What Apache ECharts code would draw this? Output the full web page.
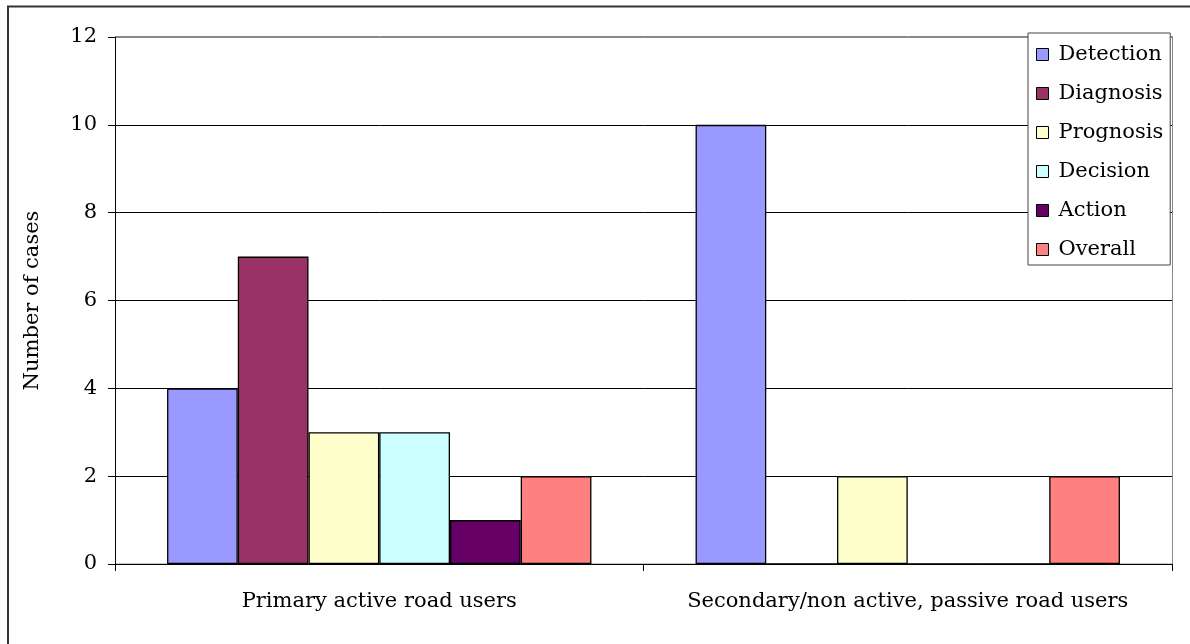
<!DOCTYPE html>
<html>
<head>
<meta charset="utf-8">
<script src="https://cdn.jsdelivr.net/npm/echarts@6/dist/echarts.min.js"></script>
<style>
html,body{margin:0;padding:0;background:#fff;}
#chart{width:1190px;height:644px;}
</style>
</head>
<body>
<div id="chart"></div>
<script>
var categories = ['Primary active road users', 'Secondary/non active, passive road users'];
var seriesNames = ['Detection', 'Diagnosis', 'Prognosis', 'Decision', 'Action', 'Overall'];
var detection = [4, 10];
var diagnosis = [7, 0];
var prognosis = [3, 2];
var decision = [3, 0];
var action = [1, 0];
var overall = [2, 2];
var yTicks = [0, 2, 4, 6, 8, 10, 12];
var colors = ['#9999FF', '#993366', '#FFFFCC', '#CCFFFF', '#660066', '#FF8080'];

var values = [detection, diagnosis, prognosis, decision, action, overall];
var font = '"DejaVu Serif", "Liberation Serif", serif';

var chart = echarts.init(document.getElementById('chart'));
chart.setOption({
  animation: false,
  backgroundColor: '#fff',
  textStyle: { fontFamily: font },
  graphic: [{
    type: 'rect', z: 100, silent: true,
    shape: { x: 8, y: 6.5, width: 1300, height: 800 },
    style: { fill: 'none', stroke: '#333', lineWidth: 2 }
  }, {
    type: 'rect', z: 0, silent: true,
    shape: { x: 115.5, y: 36.5, width: 1057, height: 527.5 },
    style: { fill: 'none', stroke: '#888', lineWidth: 1 }
  }],
  grid: { left: 115, top: 37, right: 18, bottom: 80, containLabel: false },
  legend: {
    orient: 'vertical',
    left: 1028, top: 33,
    padding: [11, 7, 5, 8],
    backgroundColor: '#fff',
    borderColor: '#444',
    borderWidth: 1,
    itemWidth: 12, itemHeight: 12,
    itemGap: 18,
    icon: 'rect',
    itemStyle: { borderColor: '#000', borderWidth: 1 },
    textStyle: { fontFamily: font, fontSize: 21, color: '#000', lineHeight: 21, padding: [0, 0, 0, 5] },
    data: seriesNames
  },
  xAxis: {
    type: 'category',
    data: categories,
    axisLine: { lineStyle: { color: '#000', width: 1 } },
    axisTick: { show: true, length: 7, inside: false, interval: 0, lineStyle: { color: '#000' } },
    axisLabel: { fontFamily: font, fontSize: 21, color: '#000', margin: 27, interval: 0, hideOverlap: false },
    splitLine: { show: false }
  },
  yAxis: {
    type: 'value',
    min: yTicks[0], max: yTicks[yTicks.length - 1], interval: 2,
    name: 'Number of cases',
    nameLocation: 'middle',
    nameGap: 72,
    nameRotate: 90,
    nameTextStyle: { fontFamily: font, fontSize: 21, color: '#000' },
    axisLine: { show: true, lineStyle: { color: '#000', width: 1 } },
    axisTick: { show: true, length: 7, lineStyle: { color: '#000' } },
    axisLabel: { fontFamily: font, fontSize: 21, color: '#000', margin: 18 },
    splitLine: { show: true, lineStyle: { color: ['#000', '#000', '#000', '#000', '#000', '#000', '#888'], width: 1 } }
  },
  series: seriesNames.map(function (n, i) {
    return {
      name: n,
      type: 'bar',
      data: values[i],
      barGap: '0%',
      barCategoryGap: '19.7%',
      itemStyle: { color: colors[i], borderColor: '#000', borderWidth: 1.3 }
    };
  })
});
</script>
</body>
</html>
